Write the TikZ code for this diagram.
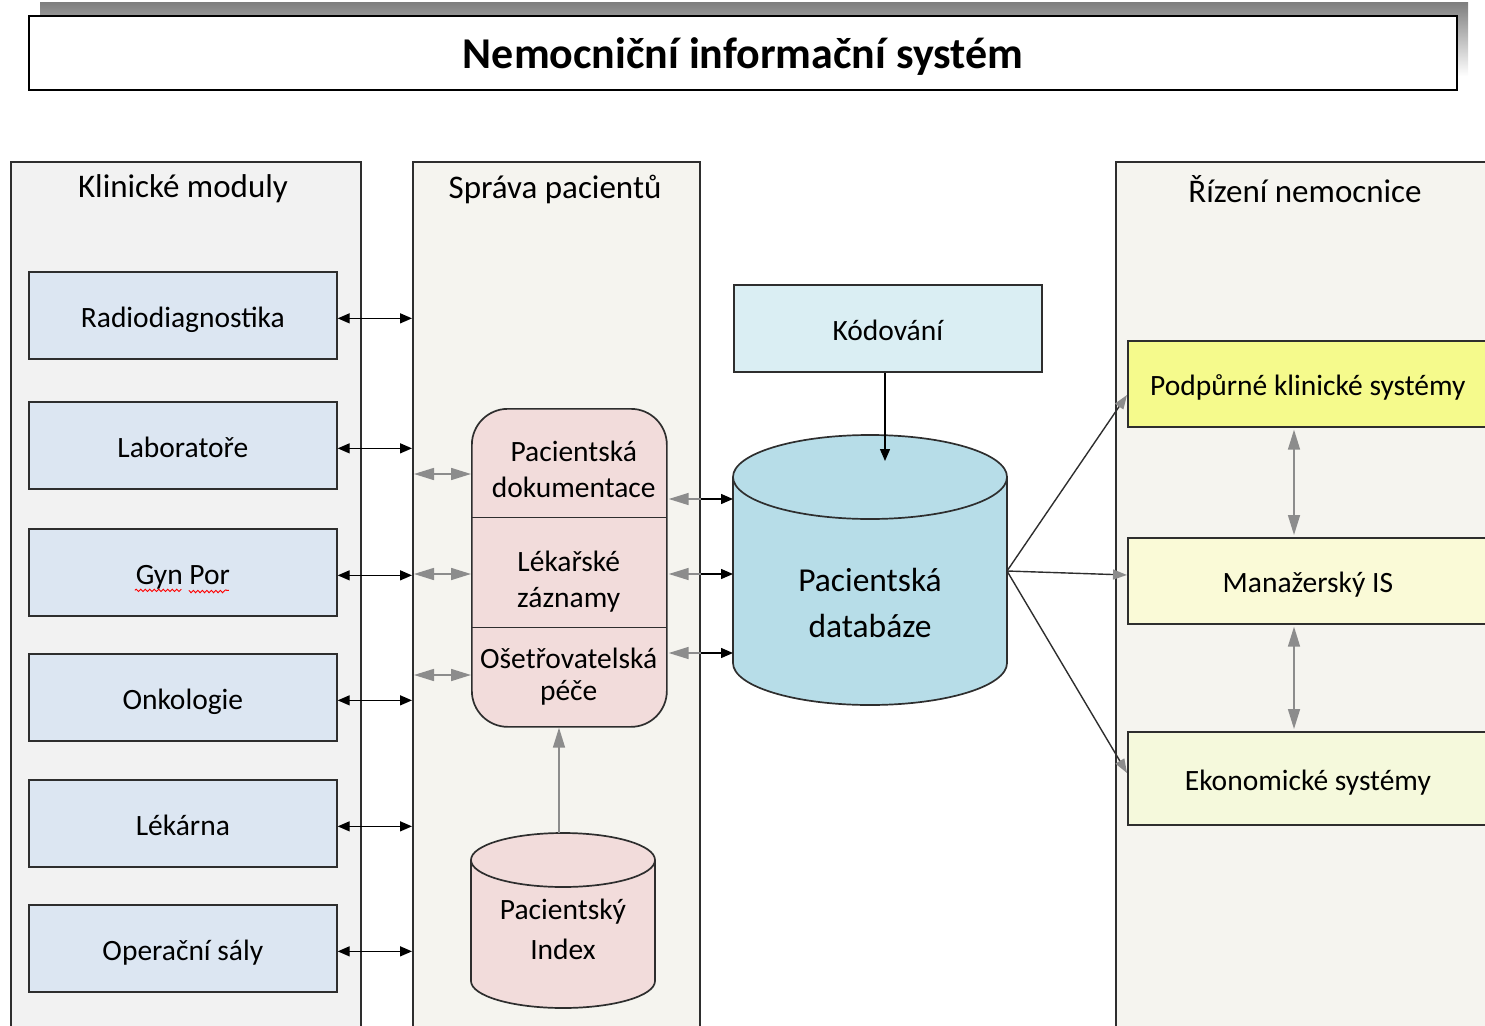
\documentclass[tikz,border=0pt]{standalone}
\usepackage{fontspec}
\setmainfont{Carlito}
\usetikzlibrary{arrows.meta,decorations.pathmorphing}

\definecolor{panelA}{HTML}{F2F2F2}
\definecolor{panelB}{HTML}{F5F4EF}
\definecolor{modblue}{HTML}{DCE6F2}
\definecolor{rosy}{HTML}{F2DCDB}
\definecolor{codeblue}{HTML}{DAEEF3}
\definecolor{dbblue}{HTML}{B7DDE8}
\definecolor{yelA}{HTML}{F5FA8C}
\definecolor{yelB}{HTML}{FAFAD7}
\definecolor{yelC}{HTML}{F5F9DC}
\definecolor{shade}{HTML}{C4C4C4}
\definecolor{linkgray}{HTML}{8C8C8C}
\definecolor{edge}{HTML}{2E2E2E}

\newcommand{\bodyfont}{\fontsize{29.5}{36}\selectfont}
\newcommand{\headfont}{\fontsize{33}{40}\selectfont}

\begin{document}
\begin{tikzpicture}[x=1pt,y=-1pt,
  panel/.style={draw=edge, line width=1.7pt, anchor=north west, inner sep=0pt},
  paneltitle/.style={font=\headfont, inner sep=0pt},
  labelled/.style={text height=24pt, text depth=0pt},
  modbox/.style={draw=edge, line width=1.7pt, anchor=north west, inner sep=0pt, labelled,
    fill=modblue, minimum width=308, minimum height=87, font=\bodyfont},
  rbox/.style={draw=edge, line width=1.7pt, anchor=north west, inner sep=0pt, labelled,
    minimum width=360, font=\bodyfont},
  sect/.style={anchor=north west, inner sep=0pt, minimum width=195, align=center, font=\bodyfont},
  blk/.style={line width=1.4pt, black, {Triangle[length=12pt,width=10pt]}-{Triangle[length=12pt,width=10pt]}},
  blkone/.style={line width=1.4pt, black, -{Triangle[length=12pt,width=10pt]}},
  gry/.style={line width=1.6pt, linkgray, {Triangle[length=20pt,width=12pt]}-{Triangle[length=20pt,width=12pt]}},
  gryone/.style={line width=1.6pt, linkgray, -{Triangle[length=20pt,width=12pt]}},
  fan/.style={line width=1.4pt, edge, -{Triangle[length=14pt,width=10pt,color=linkgray]}},
  cyl/.style={draw=edge, line width=1.7pt}
]
\useasboundingbox (0,0) rectangle (1485,1025);
\clip (0,0) rectangle (1485,1025);

% heading bar with its shadow
\fill[shade] (40,3) rectangle (1468,76);
\node[draw=black, line width=2.2pt, fill=white, anchor=north west, minimum width=1428,
  minimum height=74, inner sep=0pt, text height=30pt, text depth=0pt,
  font=\fontsize{44}{50}\selectfont\bfseries]
  (title) at (28,15) {Nemocniční informační systém};

% the three column panels
\node[panel, fill=panelA, minimum width=350, minimum height=900] (km) at (10,161) {};
\node[panel, fill=panelB, minimum width=287, minimum height=900] (sp) at (412,161) {};
\node[panel, fill=panelB, minimum width=420, minimum height=900] (rz) at (1115,161) {};
\node[paneltitle] (kmt) at (183,189) {Klinické moduly};
\node[paneltitle] (spt) at (555,189) {Správa pacientů};
\node[paneltitle] (rzt) at (1305,189) {Řízení nemocnice};

% clinical modules
\node[modbox] (m1) at (28,271) {Radiodiagnostika};
\node[modbox] (m2) at (28,401) {Laboratoře};
\node[modbox] (m3) at (28,528) {Gyn Por};
\node[modbox] (m4) at (28,653) {Onkologie};
\node[modbox] (m5) at (28,779) {Lékárna};
\node[modbox] (m6) at (28,904) {Operační sály};
\draw[red, line width=0.9pt, decorate, decoration={snake, amplitude=1.2pt, segment length=4.5pt}]
  ([shift={(-48,18)}]m3.center) -- ([shift={(-2,18)}]m3.center)
  ([shift={(6,18)}]m3.center) -- ([shift={(46,18)}]m3.center);

\foreach \m in {m1,m2,m3,m4,m5,m6}
  \draw[blk] ([yshift=-3pt]\m.east) -- ([yshift=-3pt]\m.east -| sp.west);

% patient records block
\node[draw=edge, line width=1.7pt, fill=rosy, rounded corners=36pt, anchor=north west,
  minimum width=195, minimum height=318, inner sep=0pt] (pd) at (471,408) {};
\node[sect, minimum height=109, text height=70pt, text depth=0pt] (pd1) at (471,408)
  {\hspace*{10pt}Pacientská\\\hspace*{10pt}dokumentace};
\node[sect, minimum height=110, text height=70pt, text depth=0pt] (pd2) at (471,517)
  {Lékařské\\záznamy};
\node[sect, minimum height=99, font=\fontsize{29.5}{32}\selectfont] (pd3) at (471,627)
  {Ošetřovatelská\\péče};
\draw[edge, line width=1.7pt] (pd1.south west) -- (pd1.south east);
\draw[edge, line width=1.7pt] (pd2.south west) -- (pd2.south east);

\coordinate (l1) at (0,474);
\coordinate (l2) at (0,574);
\coordinate (l3) at (0,675);
\foreach \c in {l1,l2,l3}
  \draw[gry] ([xshift=2pt]sp.west |- \c) -- (pd.west |- \c);

% patient database cylinder
\fill[dbblue] (733,477) -- (733,663)
  arc[start angle=180, end angle=360, x radius=137pt, y radius=42pt] -- (1007,477)
  arc[start angle=0, end angle=180, x radius=137pt, y radius=42pt] -- cycle;
\draw[cyl] (733,477) -- (733,663)
  arc[start angle=180, end angle=360, x radius=137pt, y radius=42pt] -- (1007,477)
  arc[start angle=0, end angle=180, x radius=137pt, y radius=42pt] -- cycle;
\draw[cyl] (733,477) arc[start angle=180, end angle=360, x radius=137pt, y radius=42pt];
\node[anchor=north west, minimum width=274, minimum height=270, inner sep=0pt] (db) at (733,435) {};
\node[align=center, font=\fontsize{33.5}{46}\selectfont, inner sep=0pt] (dbt) at (870,603) {Pacientská\\databáze};
\coordinate (dbtop) at (885,461);
\coordinate (dbr) at (1007,571);

\coordinate (r1) at (0,499);
\coordinate (r2) at (0,574);
\coordinate (r3) at (0,653);
\foreach \c in {r1,r2,r3}{
  \draw[gryone] (sp.east |- \c) -- ([xshift=1pt]pd.east |- \c);
  \draw[blkone] (sp.east |- \c) -- (db.west |- \c);
}

% coding box
\node[draw=edge, line width=1.7pt, fill=codeblue, anchor=north west, minimum width=308,
  minimum height=87, inner sep=0pt, labelled, font=\bodyfont] (kod) at (733,284) {Kódování};
\draw[blkone] (kod.south -| dbtop) -- (dbtop);

% patient index cylinder
\fill[rosy] (471,860) -- (471,981)
  arc[start angle=180, end angle=360, x radius=92pt, y radius=27pt] -- (655,860)
  arc[start angle=0, end angle=180, x radius=92pt, y radius=27pt] -- cycle;
\draw[cyl] (471,860) -- (471,981)
  arc[start angle=180, end angle=360, x radius=92pt, y radius=27pt] -- (655,860)
  arc[start angle=0, end angle=180, x radius=92pt, y radius=27pt] -- cycle;
\draw[cyl] (471,860) arc[start angle=180, end angle=360, x radius=92pt, y radius=27pt];
\node[anchor=north west, minimum width=184, minimum height=175, inner sep=0pt] (pix) at (471,833) {};
\node[align=center, font=\fontsize{29.5}{40}\selectfont, inner sep=0pt] (pixt) at (563,929) {Pacientský\\Index};
\coordinate (ixup) at (559,833);
\draw[gryone] (ixup) -- (ixup |- pd.south);

% hospital management systems
\node[rbox, fill=yelA, minimum height=86] (ps) at (1127,340) {Podpůrné klinické systémy};
\node[rbox, fill=yelB, minimum height=86] (mis) at (1127,537) {Manažerský IS};
\node[rbox, fill=yelC, minimum height=93] (es) at (1127,731) {Ekonomické systémy};

\coordinate (f1) at (0,395);
\coordinate (f2) at (0,575);
\coordinate (f3) at (0,773);
\draw[fan] (dbr) -- (ps.west |- f1);
\draw[fan] (dbr) -- (mis.west |- f2);
\draw[fan] (dbr) -- (es.west |- f3);

\coordinate (vx) at (1294,0);
\draw[gry] ([yshift=-2pt]ps.south -| vx) -- ([yshift=2pt]mis.north -| vx);
\draw[gry] ([yshift=-2pt]mis.south -| vx) -- ([yshift=2pt]es.north -| vx);
\end{tikzpicture}
\end{document}
